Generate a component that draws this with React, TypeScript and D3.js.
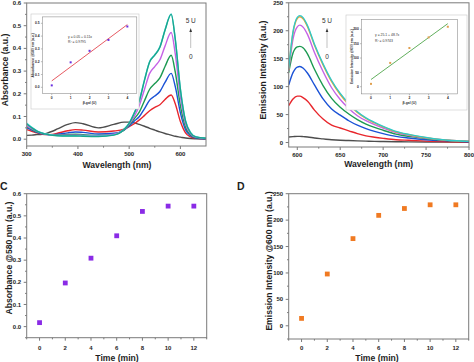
import React from 'react';
import * as d3 from 'd3';

const FONT = '"Liberation Sans", Arial, Helvetica, sans-serif';
const AXIS = '#7a7a7a';
const TEXT = '#1e1e1e';

// A: absorption spectra, 0 -> 5 U
const absWl = [300, 310, 320, 330, 340, 350, 360, 380, 395, 410, 440, 470, 490, 500, 510, 520, 530, 540, 550, 560, 570, 582, 590, 600, 610, 620, 630, 650];
const absGray = [0.017, 0.018, 0.020, 0.022, 0.027, 0.035, 0.045, 0.065, 0.073, 0.068, 0.050, 0.065, 0.075, 0.075, 0.072, 0.065, 0.057, 0.048, 0.040, 0.032, 0.025, 0.018, 0.013, 0.009, 0.005, 0.003, 0.002, 0.001];
const absRed = [0.042, 0.035, 0.028, 0.022, 0.020, 0.021, 0.026, 0.037, 0.042, 0.040, 0.032, 0.036, 0.044, 0.055, 0.068, 0.085, 0.105, 0.125, 0.140, 0.152, 0.175, 0.195, 0.156, 0.078, 0.028, 0.010, 0.004, 0.002];
const absBlue = [0.050, 0.040, 0.030, 0.024, 0.020, 0.019, 0.021, 0.028, 0.032, 0.030, 0.023, 0.026, 0.040, 0.058, 0.080, 0.100, 0.135, 0.172, 0.190, 0.210, 0.250, 0.290, 0.232, 0.116, 0.042, 0.015, 0.005, 0.002];
const absGreen = [0.055, 0.043, 0.032, 0.025, 0.021, 0.019, 0.019, 0.021, 0.022, 0.020, 0.017, 0.021, 0.040, 0.062, 0.090, 0.120, 0.170, 0.220, 0.245, 0.270, 0.320, 0.370, 0.296, 0.148, 0.054, 0.019, 0.007, 0.003];
const absViolet = [0.060, 0.046, 0.034, 0.026, 0.021, 0.018, 0.017, 0.018, 0.018, 0.017, 0.015, 0.022, 0.042, 0.066, 0.100, 0.150, 0.220, 0.290, 0.320, 0.350, 0.410, 0.470, 0.376, 0.188, 0.068, 0.024, 0.009, 0.003];
const absCyan = [0.070, 0.052, 0.037, 0.028, 0.022, 0.018, 0.016, 0.015, 0.015, 0.014, 0.013, 0.019, 0.044, 0.071, 0.117, 0.172, 0.262, 0.342, 0.372, 0.407, 0.482, 0.552, 0.442, 0.222, 0.082, 0.029, 0.011, 0.004];
const absTeal = [0.067, 0.050, 0.036, 0.027, 0.021, 0.017, 0.015, 0.014, 0.014, 0.013, 0.012, 0.018, 0.043, 0.070, 0.115, 0.170, 0.260, 0.340, 0.370, 0.405, 0.480, 0.550, 0.440, 0.220, 0.080, 0.028, 0.010, 0.004];

// A inset: absorbance @580 vs beta-gal
const betaGal = [0, 1, 2, 3, 4];
const insetAbs = [0.015, 0.195, 0.285, 0.37, 0.475];
const absFitCoef = [0.05, 0.11];

// B: emission spectra
const emWl = [590, 595, 600, 603, 607, 612, 620, 630, 640, 650, 660, 670, 680, 690, 700, 715, 730, 750, 775, 800];
const emGray = [10, 10.5, 11, 11, 10.5, 10, 8, 6.5, 5, 4, 3.5, 3, 2.5, 2, 1.8, 1.5, 1.2, 1, 0.7, 0.5];
const emRed = [66, 78, 83, 83, 80, 74, 58, 42, 31, 26, 21, 16, 12, 9.5, 7.5, 5, 4, 2.5, 1.5, 1];
const emBlue = [103, 125, 135, 136, 133, 124, 103, 78, 60, 49, 39, 31, 25, 20, 16, 11, 8, 5, 3, 1.5];
const emGreen = [125, 160, 171, 172, 169, 158, 131, 102, 79, 63, 51, 41, 33, 27, 22, 15, 11, 7, 3.5, 2];
const emViolet = [128, 185, 207, 210, 206, 193, 161, 127, 98, 77, 61, 48, 39, 32, 26, 18, 13, 8, 4, 2];
const emOrange = [130, 196, 222, 225, 221, 207, 174, 139, 109, 86, 68, 54, 43, 35, 28, 19, 14, 8.5, 4, 2];
const emCyan = [132, 198, 224, 227, 223, 209, 176, 141, 111, 88, 70, 55, 44, 36, 29, 20, 14.5, 9, 4, 2];

// B inset: emission @600 vs beta-gal
const insetEm = [10, 83, 135, 172, 209];
const emFitCoef = [25.1, 48.7];

// C / D: time course
const timeMin = [0, 2, 4, 6, 8, 10, 12];
const absAt580 = [0.018, 0.197, 0.309, 0.41, 0.52, 0.544, 0.544];
const emAt600 = [14, 98, 165, 209, 222, 229, 229];

type Scale = d3.ScaleLinear<number, number>;

function Axes({ x, y, xTicks, yTicks, xMinor = [], yMinor = [], fmtY = (v: number) => String(v), fs = 6, len = 3, xOff = 9.5, yOff = 2.5, sw = 1 }: {
  x: Scale; y: Scale; xTicks: number[]; yTicks: number[]; xMinor?: number[]; yMinor?: number[];
  fmtY?: (v: number) => string; fs?: number; len?: number; xOff?: number; yOff?: number; sw?: number;
}) {
  const [l, r] = x.range();
  const [b, t] = y.range();
  return (
    <g fontFamily={FONT} fontWeight="bold" fontSize={fs} fill={TEXT}>
      {xMinor.map(v => <line key={'xm' + v} x1={x(v)} x2={x(v)} y1={b} y2={b + len * 0.55} stroke={AXIS} strokeWidth={sw} />)}
      {yMinor.map(v => <line key={'ym' + v} x1={l} x2={l - len * 0.55} y1={y(v)} y2={y(v)} stroke={AXIS} strokeWidth={sw} />)}
      {xTicks.map(v => (
        <g key={'x' + v}>
          <line x1={x(v)} x2={x(v)} y1={b} y2={b + len} stroke={AXIS} strokeWidth={sw} />
          <text x={x(v)} y={b + xOff} textAnchor="middle">{v}</text>
        </g>
      ))}
      {yTicks.map(v => (
        <g key={'y' + v}>
          <line x1={l} x2={l - len} y1={y(v)} y2={y(v)} stroke={AXIS} strokeWidth={sw} />
          <text x={l - len - yOff} y={y(v)} dy="0.35em" textAnchor="end">{fmtY(v)}</text>
        </g>
      ))}
      <rect x={l} y={t} width={r - l} height={b - t} fill="none" stroke={AXIS} strokeWidth={sw} />
    </g>
  );
}

function Curves({ x, y, wl, series, id, width = 1.4 }: { x: Scale; y: Scale; wl: number[]; series: [number[], string][]; id: string; width?: number }) {
  const [l, r] = x.range();
  const [b, t] = y.range();
  const line = d3.line<number>().x((_, i) => x(wl[i])).y(d => y(d)).curve(d3.curveMonotoneX);
  return (
    <g>
      <clipPath id={id}><rect x={l} y={t} width={r - l} height={b - t} /></clipPath>
      <g clipPath={`url(#${id})`}>
        {series.map(([vals, c], i) => (
          <path key={i} d={line(vals) ?? ''} fill="none" stroke={c} strokeWidth={width} strokeLinejoin="round" />
        ))}
      </g>
    </g>
  );
}

function Arrow({ x, top, bottom }: { x: number; top: number; bottom: number }) {
  return (
    <g fontFamily={FONT} fontSize={6.5} fill="#333" textAnchor="middle">
      <text x={x} y={top - 6}>5 U</text>
      <line x1={x} x2={x} y1={top + 2} y2={bottom} stroke="#999" strokeWidth={0.6} />
      <path d={`M${x},${top - 1}L${x - 1.3},${top + 3}L${x + 1.3},${top + 3}Z`} fill="#333" />
      <text x={x} y={bottom + 11}>0</text>
    </g>
  );
}

function Inset({ box, x, y, xs, ys, fitCoef, xTicks, yTicks, fmtY, pointColor, lineColor, yTitle, eq, r2, eqX, eqY }: {
  box: [number, number, number, number]; x: Scale; y: Scale; xs: number[]; ys: number[]; fitCoef: number[];
  xTicks: number[]; yTicks: number[]; fmtY: (v: number) => string; pointColor: string; lineColor: string;
  yTitle: string; eq: string; r2: string; eqX: number; eqY: number;
}) {
  const [l, r] = x.range();
  const [b, t] = y.range();
  const x0 = xs[0];
  const x1 = xs[xs.length - 1];
  return (
    <g>
      <rect x={box[0]} y={box[1]} width={box[2]} height={box[3]} fill="#fff" stroke="#c8c8c8" strokeWidth={0.6} />
      <Axes x={x} y={y} xTicks={xTicks} yTicks={yTicks} fmtY={fmtY} fs={3.3} len={1.4} xOff={5.5} yOff={1.2} sw={0.5} />
      <line x1={x(x0)} y1={y(fitCoef[0] + fitCoef[1] * x0)} x2={x(x1)} y2={y(fitCoef[0] + fitCoef[1] * x1)} stroke={lineColor} strokeWidth={0.8} />
      {xs.map((v, i) => (
        <rect key={i} x={x(v) - 1} y={y(ys[i]) - 1} width={2} height={2} fill={pointColor} />
      ))}
      <g fontFamily={FONT} fontSize={3.4} fill="#333">
        <text x={eqX} y={eqY}>{eq}</text>
        <text x={eqX} y={eqY + 5.5}>{r2}</text>
        <text x={(l + r) / 2} y={b + 10.5} textAnchor="middle" fontWeight="bold">β-gal (U)</text>
        <text transform={`translate(${l - 8.5},${(t + b) / 2}) rotate(-90)`} textAnchor="middle" fontWeight="bold">{yTitle}</text>
      </g>
    </g>
  );
}

function Scatter({ x, y, xs, ys, color }: { x: Scale; y: Scale; xs: number[]; ys: number[]; color: string }) {
  const s = 4.8;
  return (
    <g>
      {xs.map((v, i) => (
        <rect key={i} x={x(v) - s / 2} y={y(ys[i]) - s / 2} width={s} height={s} fill={color} />
      ))}
    </g>
  );
}

const TITLE = { fontFamily: FONT, fontWeight: 'bold' as const, fontSize: 8.6, fill: TEXT };

export default function App() {
  // A
  const xA = d3.scaleLinear().domain([300, 650]).range([26.7, 206]);
  const yA = d3.scaleLinear().domain([-0.03, 0.6]).range([146, 3]);
  const xAi = d3.scaleLinear().domain([-0.5, 4.5]).range([42.3, 136.8]);
  const yAi = d3.scaleLinear().domain([-0.05, 0.55]).range([93.7, 16.9]);
  // B
  const xB = d3.scaleLinear().domain([590, 800]).range([288.7, 469]);
  const yB = d3.scaleLinear().domain([-8, 250]).range([147, 2.8]);
  const xBi = d3.scaleLinear().domain([-0.5, 4.5]).range([361.4, 457.4]);
  const yBi = d3.scaleLinear().domain([-25, 235]).range([93.9, 19.3]);
  // C
  const xC = d3.scaleLinear().domain([-1, 13]).range([26.7, 206.7]);
  const yC = d3.scaleLinear().domain([-0.05, 0.6]).range([337.7, 193.7]);
  // D
  const xD = d3.scaleLinear().domain([-1, 13]).range([288.7, 468.7]);
  const yD = d3.scaleLinear().domain([-25, 250]).range([339, 193.7]);

  const f1 = (v: number) => v.toFixed(1);
  const odd = [-1, 1, 3, 5, 7, 9, 11, 13];

  return (
    <svg width={474} height={362} style={{ position: 'absolute', left: 0, top: 0, background: '#fff' }}>
      {/* A */}
      <Curves x={xA} y={yA} wl={absWl} id="clipA" series={[
        [absGray, '#4d4d4d'], [absRed, '#e8262c'], [absBlue, '#1b52d6'], [absGreen, '#1d9a52'],
        [absViolet, '#c562e6'], [absCyan, '#3fd9dc'], [absTeal, '#1ba58c'],
      ]} />
      <Axes x={xA} y={yA} xTicks={[300, 400, 500, 600]} xMinor={[350, 450, 550]}
        yTicks={[0, 0.1, 0.2, 0.3, 0.4, 0.5, 0.6]} yMinor={[0.05, 0.15, 0.25, 0.35, 0.45, 0.55]} fmtY={f1} />
      <text {...TITLE} x={117} y={168} textAnchor="middle">Wavelength (nm)</text>
      <text {...TITLE} transform="translate(7.5,70) rotate(-90)" textAnchor="middle">Absorbance (a.u.)</text>
      <Arrow x={190.7} top={29} bottom={48} />
      <Inset box={[31, 14, 108, 95]} x={xAi} y={yAi} xs={betaGal} ys={insetAbs} fitCoef={absFitCoef}
        xTicks={[0, 1, 2, 3, 4]} yTicks={[0, 0.1, 0.2, 0.3, 0.4, 0.5]} fmtY={f1}
        pointColor="#6a2ee0" lineColor="#e0303a" yTitle="Absorbance @580 nm (a.u.)"
        eq="y = 0.05 + 0.11x" r2="R² = 0.9795" eqX={68} eqY={37.5} />

      {/* B */}
      <Curves x={xB} y={yB} wl={emWl} id="clipB" series={[
        [emGray, '#4d4d4d'], [emRed, '#e8262c'], [emBlue, '#1b52d6'], [emGreen, '#1d9a52'],
        [emViolet, '#c562e6'], [emOrange, '#f0a030'], [emCyan, '#2fc9c9'],
      ]} />
      <Axes x={xB} y={yB} xTicks={[600, 650, 700, 750, 800]} xMinor={[625, 675, 725, 775]}
        yTicks={[0, 50, 100, 150, 200, 250]} yMinor={[25, 75, 125, 175, 225]} />
      <text {...TITLE} x={378.7} y={167} textAnchor="middle">Wavelength (nm)</text>
      <text {...TITLE} transform="translate(266.3,70) rotate(-90)" textAnchor="middle">Emission Intensity (a.u.)</text>
      <Arrow x={327} top={29} bottom={48} />
      <Inset box={[346, 15, 121, 95]} x={xBi} y={yBi} xs={betaGal} ys={insetEm} fitCoef={emFitCoef}
        xTicks={[0, 1, 2, 3, 4]} yTicks={[0, 50, 100, 150, 200]} fmtY={String}
        pointColor="#e0a050" lineColor="#3a9a35" yTitle="Emission Intensity @600 nm (a.u.)"
        eq="y = 25.1 + 48.7x" r2="R² = 0.9743" eqX={375} eqY={36} />

      {/* C */}
      <text {...TITLE} fontSize={10.5} x={0} y={189.5}>C</text>
      <Axes x={xC} y={yC} xTicks={[0, 2, 4, 6, 8, 10, 12]} xMinor={odd}
        yTicks={[0, 0.1, 0.2, 0.3, 0.4, 0.5, 0.6]} yMinor={[-0.05, 0.05, 0.15, 0.25, 0.35, 0.45, 0.55]} fmtY={f1} xOff={12} />
      <Scatter x={xC} y={yC} xs={timeMin} ys={absAt580} color="#8a2be6" />
      <text {...TITLE} x={117} y={361} textAnchor="middle">Time (min)</text>
      <text {...TITLE} transform="translate(11.5,258) rotate(-90)" textAnchor="middle">Absorbance @580 nm (a.u.)</text>

      {/* D */}
      <text {...TITLE} fontSize={10.5} x={237} y={189.5}>D</text>
      <Axes x={xD} y={yD} xTicks={[0, 2, 4, 6, 8, 10, 12]} xMinor={odd}
        yTicks={[0, 50, 100, 150, 200, 250]} yMinor={[-25, 25, 75, 125, 175, 225]} xOff={11} />
      <Scatter x={xD} y={yD} xs={timeMin} ys={emAt600} color="#f07a22" />
      <text {...TITLE} x={377} y={361} textAnchor="middle">Time (min)</text>
      <text {...TITLE} transform="translate(272,261) rotate(-90)" textAnchor="middle">Emission Intensity @600 nm (a.u.)</text>
    </svg>
  );
}
